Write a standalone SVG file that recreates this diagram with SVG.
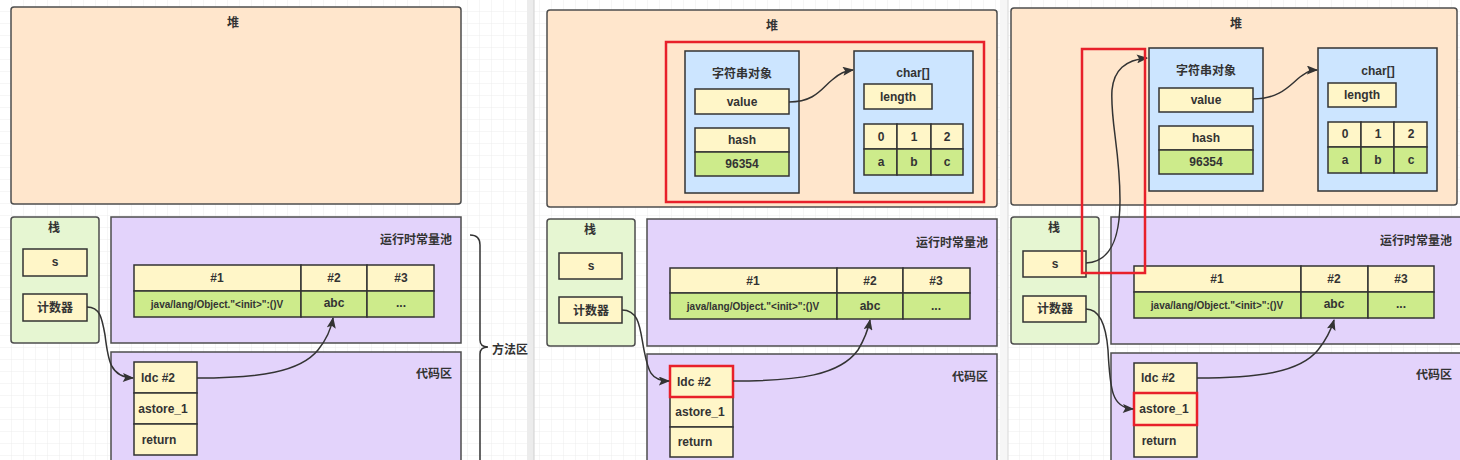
<svg xmlns="http://www.w3.org/2000/svg" width="1460" height="460" viewBox="0 0 1460 460">
<style>
text{font-family:"Liberation Sans","Noto Sans CJK SC",sans-serif;font-weight:bold;fill:#333;font-size:12px;text-anchor:middle;dominant-baseline:central}
.heap{fill:#ffe6cc;stroke:#4d4d4d;stroke-width:1.5}
.stack{fill:#e6f6d2;stroke:#4d4d4d;stroke-width:1.5}
.area{fill:#e3d3fb;stroke:#4d4d4d;stroke-width:1.5}
.y{fill:#fff6c8;stroke:#333;stroke-width:1.5}
.g{fill:#cdeb8b;stroke:#333;stroke-width:1.5}
.b{fill:#cce5ff;stroke:#333;stroke-width:1.5}
.red{fill:none;stroke:#e8202a;stroke-width:2.5}
.c{fill:none;stroke:#333;stroke-width:1.5}
.r{text-anchor:end}
.sm{font-size:10px}
</style>
<defs>
<pattern id="grid" width="12" height="12" patternUnits="userSpaceOnUse">
<path d="M12 0V12H0" fill="none" stroke="#ececec" stroke-width="1"/>
</pattern>
<marker id="ah" viewBox="0 0 10 8" refX="9" refY="4" markerWidth="12" markerHeight="9" markerUnits="userSpaceOnUse" orient="auto">
<path d="M0 0L10 4L0 8L2 4Z" fill="#333"/>
</marker>
</defs>
<rect width="1460" height="460" fill="#fff"/>
<rect width="1460" height="460" fill="url(#grid)"/>
<rect x="527" y="0" width="7" height="460" fill="#ececec"/>
<line x1="534" y1="0" x2="534" y2="460" stroke="#d0d0d0"/>
<rect x="1000" y="0" width="8" height="460" fill="#f6f6f6"/>
<line x1="1008" y1="0" x2="1008" y2="460" stroke="#d8d8d8"/>

<!-- Panel 1 -->
<g id="p1-heap"><rect class="heap" x="11" y="7" width="450" height="197" rx="3"/><text x="233" y="23">堆</text></g>
<g id="p1-stack"><rect class="stack" x="11" y="217" width="88" height="126" rx="3"/><text x="54" y="228">栈</text></g>
<g id="p1-s"><rect class="y" x="23" y="249" width="64" height="27"/><text x="55" y="262">s</text></g>
<g id="p1-pc"><rect class="y" x="23" y="294" width="64" height="27"/><text x="55" y="308">计数器</text></g>
<g id="p1-pool"><rect class="area" x="111" y="217" width="350" height="126"/><text class="r" x="452" y="240">运行时常量池</text></g>
<g id="p1-table">
<rect class="y" x="134" y="265" width="167" height="26"/><rect class="y" x="301" y="265" width="66" height="26"/><rect class="y" x="367" y="265" width="67" height="26"/>
<rect class="g" x="134" y="291" width="167" height="26"/><rect class="g" x="301" y="291" width="66" height="26"/><rect class="g" x="367" y="291" width="67" height="26"/>
<text x="217" y="278">#1</text><text x="334" y="278">#2</text><text x="401" y="278">#3</text>
<text class="sm" x="217" y="304">java/lang/Object."&lt;init&gt;":()V</text><text x="334" y="303">abc</text><text x="401" y="303">...</text>
</g>
<g id="p1-code"><rect class="area" x="111" y="352" width="350" height="120"/><text class="r" x="452" y="374">代码区</text></g>
<g id="p1-ops">
<rect class="y" x="134" y="362" width="63" height="31"/><text x="158" y="378">ldc #2</text>
<rect class="y" x="134" y="393" width="63" height="31"/><text x="163" y="409">astore_1</text>
<rect class="y" x="134" y="424" width="63" height="31"/><text x="159" y="440">return</text>
</g>
<g id="p1-method"><path class="c" d="M470 235Q480 235 480 245V340Q480 347 488 347Q480 347 480 354V460"/><text x="510" y="350">方法区</text></g>

<!-- Panel 2 -->
<g id="p2-heap"><rect class="heap" x="547" y="10" width="450" height="197" rx="3"/><text x="772" y="26">堆</text></g>
<g id="p2-str"><rect class="b" x="685" y="51" width="114" height="142"/><text x="742" y="74">字符串对象</text>
<rect class="y" x="695" y="89" width="94" height="25"/><text x="742" y="102">value</text>
<rect class="y" x="695" y="128" width="94" height="24"/><text x="742" y="140">hash</text>
<rect class="g" x="695" y="152" width="94" height="24"/><text x="742" y="164">96354</text></g>
<g id="p2-char"><rect class="b" x="854" y="51" width="119" height="142"/><text x="913" y="73">char[]</text>
<rect class="y" x="864" y="84" width="68" height="25"/><text x="898" y="97">length</text>
<rect class="y" x="864" y="124" width="33" height="25"/><rect class="y" x="897" y="124" width="34" height="25"/><rect class="y" x="931" y="124" width="32" height="25"/>
<rect class="g" x="864" y="149" width="33" height="26"/><rect class="g" x="897" y="149" width="34" height="26"/><rect class="g" x="931" y="149" width="32" height="26"/>
<text x="881" y="137">0</text><text x="914" y="137">1</text><text x="947" y="137">2</text>
<text x="881" y="162">a</text><text x="914" y="162">b</text><text x="947" y="162">c</text></g>
<rect class="red" x="666" y="42" width="318" height="160"/>
<g id="p2-stack"><rect class="stack" x="547" y="219" width="88" height="127" rx="3"/><text x="590" y="230">栈</text></g>
<g id="p2-s"><rect class="y" x="559" y="253" width="63" height="26"/><text x="591" y="266">s</text></g>
<g id="p2-pc"><rect class="y" x="559" y="297" width="63" height="26"/><text x="591" y="311">计数器</text></g>
<g id="p2-pool"><rect class="area" x="647" y="219" width="350" height="127"/><text class="r" x="988" y="243">运行时常量池</text></g>
<g id="p2-table">
<rect class="y" x="670" y="268" width="167" height="25"/><rect class="y" x="837" y="268" width="66" height="25"/><rect class="y" x="903" y="268" width="67" height="25"/>
<rect class="g" x="670" y="293" width="167" height="26"/><rect class="g" x="837" y="293" width="66" height="26"/><rect class="g" x="903" y="293" width="67" height="26"/>
<text x="753" y="281">#1</text><text x="870" y="281">#2</text><text x="936" y="281">#3</text>
<text class="sm" x="753" y="306">java/lang/Object."&lt;init&gt;":()V</text><text x="870" y="306">abc</text><text x="936" y="306">...</text>
</g>
<g id="p2-code"><rect class="area" x="647" y="354" width="350" height="120"/><text class="r" x="988" y="377">代码区</text></g>
<g id="p2-ops">
<rect class="y" x="670" y="366" width="63" height="31"/><text x="694" y="382">ldc #2</text>
<rect class="y" x="670" y="397" width="63" height="30"/><text x="700" y="412">astore_1</text>
<rect class="y" x="670" y="427" width="63" height="30"/><text x="695" y="442">return</text>
</g>
<rect class="red" x="670" y="366" width="63" height="31"/>

<!-- Panel 3 -->
<g id="p3-heap"><rect class="heap" x="1011" y="8" width="446" height="197" rx="3"/><text x="1236" y="24">堆</text></g>
<g id="p3-str"><rect class="b" x="1149" y="48" width="114" height="143"/><text x="1206" y="71">字符串对象</text>
<rect class="y" x="1159" y="88" width="94" height="24"/><text x="1206" y="100">value</text>
<rect class="y" x="1159" y="126" width="94" height="24"/><text x="1206" y="138">hash</text>
<rect class="g" x="1159" y="150" width="94" height="24"/><text x="1206" y="162">96354</text></g>
<g id="p3-char"><rect class="b" x="1318" y="48" width="119" height="143"/><text x="1378" y="71">char[]</text>
<rect class="y" x="1328" y="83" width="68" height="24"/><text x="1362" y="95">length</text>
<rect class="y" x="1328" y="122" width="33" height="25"/><rect class="y" x="1361" y="122" width="33" height="25"/><rect class="y" x="1394" y="122" width="33" height="25"/>
<rect class="g" x="1328" y="147" width="33" height="26"/><rect class="g" x="1361" y="147" width="33" height="26"/><rect class="g" x="1394" y="147" width="33" height="26"/>
<text x="1345" y="134">0</text><text x="1378" y="134">1</text><text x="1411" y="134">2</text>
<text x="1345" y="160">a</text><text x="1378" y="160">b</text><text x="1411" y="160">c</text></g>
<g id="p3-stack"><rect class="stack" x="1011" y="217" width="88" height="127" rx="3"/><text x="1054" y="228">栈</text></g>
<g id="p3-s"><rect class="y" x="1023" y="251" width="63" height="26"/><text x="1055" y="264">s</text></g>
<g id="p3-pc"><rect class="y" x="1023" y="296" width="63" height="26"/><text x="1055" y="309">计数器</text></g>
<g id="p3-pool"><rect class="area" x="1111" y="217" width="360" height="127"/><text class="r" x="1452" y="241">运行时常量池</text></g>
<g id="p3-table">
<rect class="y" x="1134" y="266" width="167" height="26"/><rect class="y" x="1301" y="266" width="67" height="26"/><rect class="y" x="1368" y="266" width="66" height="26"/>
<rect class="g" x="1134" y="292" width="167" height="26"/><rect class="g" x="1301" y="292" width="67" height="26"/><rect class="g" x="1368" y="292" width="66" height="26"/>
<text x="1217" y="279">#1</text><text x="1334" y="279">#2</text><text x="1401" y="279">#3</text>
<text class="sm" x="1217" y="305">java/lang/Object."&lt;init&gt;":()V</text><text x="1334" y="304">abc</text><text x="1401" y="304">...</text>
</g>
<g id="p3-code"><rect class="area" x="1111" y="353" width="360" height="120"/><text class="r" x="1452" y="375">代码区</text></g>
<g id="p3-ops">
<rect class="y" x="1134" y="363" width="63" height="30"/><text x="1158" y="378">ldc #2</text>
<rect class="y" x="1134" y="393" width="63" height="32"/><text x="1164" y="409">astore_1</text>
<rect class="y" x="1134" y="425" width="63" height="32"/><text x="1159" y="441">return</text>
</g>
<rect class="red" x="1134" y="393" width="63" height="32"/>

<g id="connectors">
<path class="c" marker-end="url(#ah)" d="M87 307C100 307 102 318 105 335C108 360 110 377 133 378"/>
<path class="c" marker-end="url(#ah)" d="M197 378C260 378 300 372 318 350C326 340 331 330 333 318"/>
<path class="c" marker-end="url(#ah)" d="M789 102C815 102 822 88 832 80C840 73 845 71 853 70"/>
<path class="c" marker-end="url(#ah)" d="M622 310C640 310 640 330 644 350C648 370 650 381 669 381"/>
<path class="c" marker-end="url(#ah)" d="M733 381C800 381 840 375 858 350C864 340 868 330 870 320"/>
<path class="c" marker-end="url(#ah)" d="M1253 99C1280 99 1290 85 1300 77C1307 72 1310 70 1317 70"/>
<path class="c" marker-end="url(#ah)" d="M1086 263C1110 262 1120 240 1120 200C1120 150 1110 120 1112 90C1114 70 1125 60 1147 58"/>
<path class="c" marker-end="url(#ah)" d="M1086 309C1100 309 1106 325 1108 350C1110 390 1112 408 1133 409"/>
<path class="c" marker-end="url(#ah)" d="M1197 378C1260 378 1300 372 1318 350C1326 340 1331 330 1334 320"/>
</g>
<rect class="red" x="1082" y="49" width="63" height="224"/>
</svg>
